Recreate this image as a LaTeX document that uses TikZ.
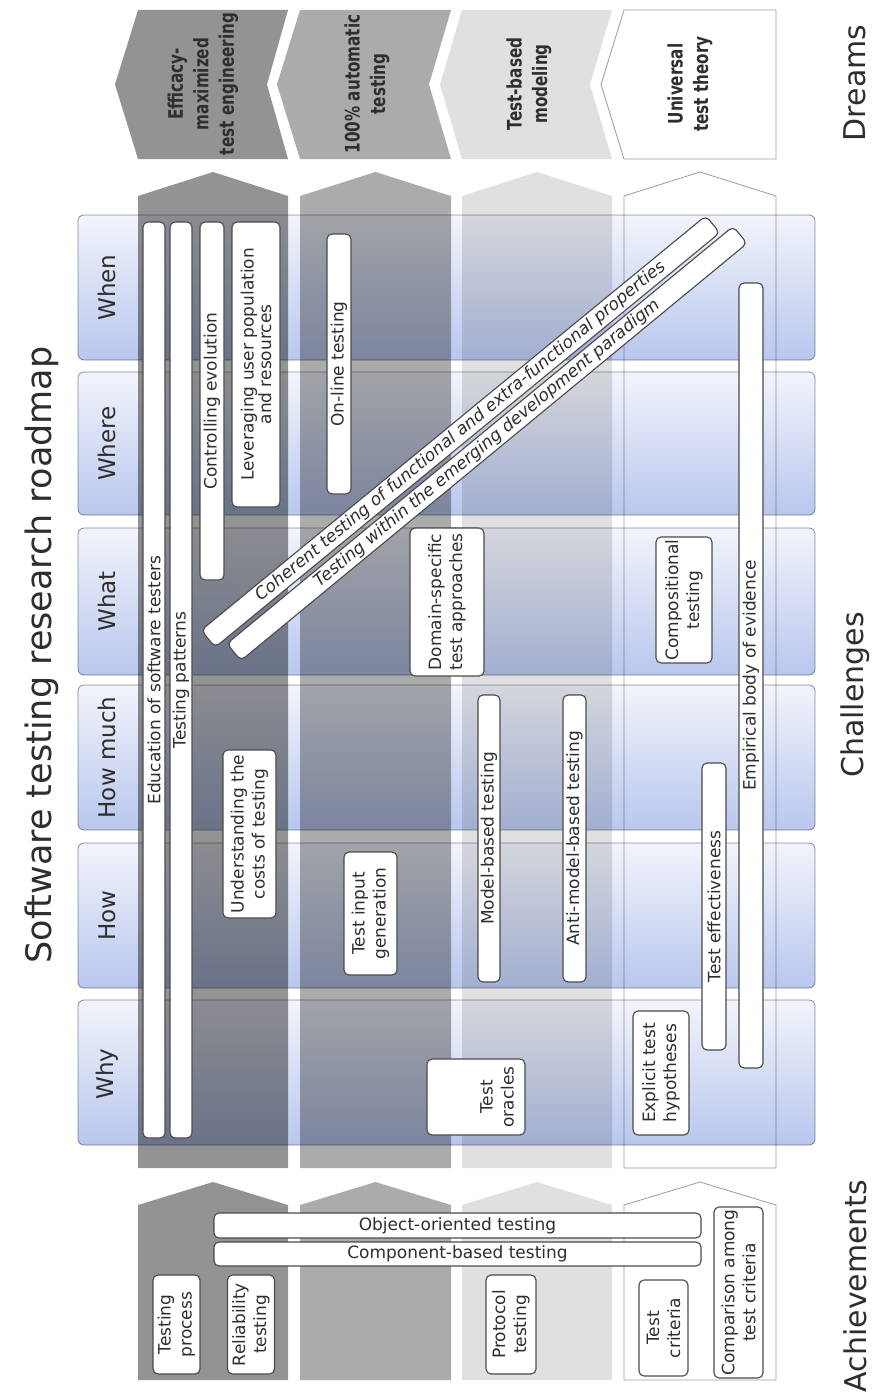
\documentclass[tikz,border=0pt]{standalone}
\usepackage{fontspec}
\setmainfont{DejaVu Sans}
\newfontfamily\dreamfont{DejaVu Sans}[FakeStretch=0.76]
\usepackage{xcolor,tikz}
\definecolor{gA}{HTML}{939393}
\definecolor{gB}{HTML}{ABABAB}
\definecolor{gC}{HTML}{E0E0E0}
\definecolor{edge}{HTML}{9C9C9C}
\definecolor{rowtop}{HTML}{F2F4FB}
\definecolor{rowbot}{HTML}{B9C7EE}
\definecolor{rowline}{HTML}{8A90A6}
\definecolor{boxline}{HTML}{4A4A4A}
\definecolor{ink}{HTML}{2E2E2E}

\begin{document}
\begin{tikzpicture}[x=1pt,y=-1pt,
tbox/.style={draw=boxline,line width=1.1pt,fill=white,rounded corners=5pt,inner sep=0pt,
align=center,text=ink,font=\fontsize{17}{21}\selectfont},
vtbox/.style 2 args={tbox,rotate=90,minimum width=#1,minimum height=#2},
colA/.style={fill=gA},colB/.style={fill=gB},colC/.style={fill=gC},
colD/.style={fill=white,draw=edge,line width=0.8pt},
row/.style={draw=rowline,line width=0.8pt,rounded corners=6pt,top color=rowtop,bottom color=rowbot},
rowlbl/.style={rotate=90,text=ink,font=\fontsize{23}{26}\selectfont},
part/.style={rotate=90,text=ink,font=\fontsize{30}{34}\selectfont},
dream/.style={rotate=90,align=center,text=ink,font=\dreamfont\bfseries\fontsize{20}{25.5}\selectfont},
bar/.style={tbox,minimum height=22pt,font=\itshape\fontsize{17}{19}\selectfont}]
\useasboundingbox (0,0) rectangle (873,1394);
\fill[white] (0,0) rectangle (873,1394);

% dreams
\fill[colA] (138,10)--(288,10)--(267,84.5)--(288,159)--(138,159)--(115,84.5)--cycle;
\fill[colB] (300,10)--(451,10)--(429,84.5)--(451,159)--(300,159)--(277,84.5)--cycle;
\fill[colC] (462,10)--(612,10)--(590,84.5)--(612,159)--(462,159)--(440,84.5)--cycle;
\filldraw[colD] (624,10)--(776,10)--(776,159)--(624,159)--(601,84.5)--cycle;

% challenges
\fill[colA] (138,1168)--(138,196)--(213,172)--(288,196)--(288,1168)--cycle;
\fill[colB] (300,1168)--(300,196)--(375.5,172)--(451,196)--(451,1168)--cycle;
\fill[colC] (462,1168)--(462,196)--(537,172)--(612,196)--(612,1168)--cycle;
\filldraw[colD] (624,1168)--(624,196)--(700,172)--(776,196)--(776,1168)--cycle;

% achievements
\fill[colA] (138,1380)--(138,1205)--(213,1182)--(288,1205)--(288,1380)--cycle;
\fill[colB] (300,1380)--(300,1205)--(375.5,1182)--(451,1205)--(451,1380)--cycle;
\fill[colC] (462,1380)--(462,1205)--(537,1182)--(612,1205)--(612,1380)--cycle;
\filldraw[colD] (624,1380)--(624,1205)--(700,1182)--(776,1205)--(776,1380)--cycle;

\begin{scope}[blend mode=multiply]
\draw[row] (78,215) rectangle (815,360);
\draw[row] (78,372) rectangle (815,515);
\draw[row] (78,528) rectangle (815,675);
\draw[row] (78,685) rectangle (815,830);
\draw[row] (78,843) rectangle (815,988);
\draw[row] (78,1000) rectangle (815,1145);
\end{scope}

\node[rowlbl] (when) at (107,287.5) {When};
\node[rowlbl] (where) at (107,443.5) {Where};
\node[rowlbl] (what) at (107,601.5) {What};
\node[rowlbl] (howmuch) at (107,757.5) {How much};
\node[rowlbl] (how) at (107,915.5) {How};
\node[rowlbl] (why) at (107,1074) {Why};

\node[dream] (effic) at (203,84) {Efficacy-\\maximized\\test engineering};
\node[dream] (auto) at (367,84) {100\% automatic\\testing};
\node[dream] (tbm) at (529,84) {Test-based\\modeling};
\node[dream] (utt) at (690,84) {Universal\\test theory};

% challenge boxes
\node[vtbox={916pt}{22pt}] (edu) at (154,680) {Education of software testers};
\node[vtbox={916pt}{22pt}] (pat) at (181,680) {Testing patterns};
\node[vtbox={358pt}{24pt}] (evo) at (212,401) {Controlling evolution};
\node[vtbox={285pt}{48pt},font=\fontsize{17}{16}\selectfont] (lev) at (256,364.5) {Leveraging user population\\and resources};
\node[vtbox={260pt}{24pt}] (online) at (339,364) {On-line testing};
\node[vtbox={168pt}{53pt}] (cost) at (249.5,834) {Understanding the\\costs of testing};
\node[vtbox={123pt}{53pt}] (input) at (370.5,913.5) {Test input\\generation};
\node[vtbox={148pt}{74pt}] (domain) at (447,602) {Domain-specific\\test approaches};
\node[vtbox={287pt}{22pt}] (mbt) at (489,838.5) {Model-based testing};
\node[vtbox={287pt}{23pt}] (ambt) at (574.5,838.5) {Anti-model-based testing};
\node[vtbox={76pt}{98pt}] (oracle) at (476,1097) {};
\node[rotate=90,align=center,text=ink,font=\fontsize{17}{21}\selectfont] (oracletxt) at (497,1097) {Test\\oracles};
\node[vtbox={124pt}{56pt}] (hypo) at (661,1073) {Explicit test\\hypotheses};
\node[vtbox={287pt}{24pt}] (effect) at (714,906.5) {Test effectiveness};
\node[vtbox={785pt}{24pt}] (empir) at (751,675.5) {Empirical body of evidence};
\node[vtbox={126pt}{56pt}] (compo) at (684,600) {Compositional\\testing};
\node[bar,rotate=39.4,minimum width=653pt] (coher) at (460.5,431.5) {Coherent testing of functional and extra-functional properties};
\node[bar,rotate=39.5,minimum width=656pt] (paradigm) at (487,443.5) {Testing within the emerging development paradigm};

% achievement boxes
\node[tbox,minimum width=487pt,minimum height=25pt] (oot) at (457.5,1225.5) {Object-oriented testing};
\node[tbox,minimum width=487pt,minimum height=24pt] (cbt) at (457.5,1254) {Component-based testing};
\node[vtbox={99pt}{47pt}] (process) at (176.5,1324.5) {Testing\\process};
\node[vtbox={99pt}{47pt}] (reliab) at (251,1324.5) {Reliability\\testing};
\node[vtbox={99pt}{50pt}] (protocol) at (511,1324.5) {Protocol\\testing};
\node[vtbox={96pt}{49pt}] (criteria) at (663.5,1328) {Test\\criteria};
\node[vtbox={171pt}{49pt}] (compare) at (738.5,1292.5) {Comparison among\\test criteria};

\node[rotate=90,text=ink,font=\fontsize{35}{40}\selectfont] (title) at (42,655) {Software testing research roadmap};
\node[part] (dreams) at (855,83) {Dreams};
\node[part] (challenges) at (855,695) {Challenges};
\node[part] (achieve) at (855,1286) {Achievements};
\end{tikzpicture}
\end{document}
